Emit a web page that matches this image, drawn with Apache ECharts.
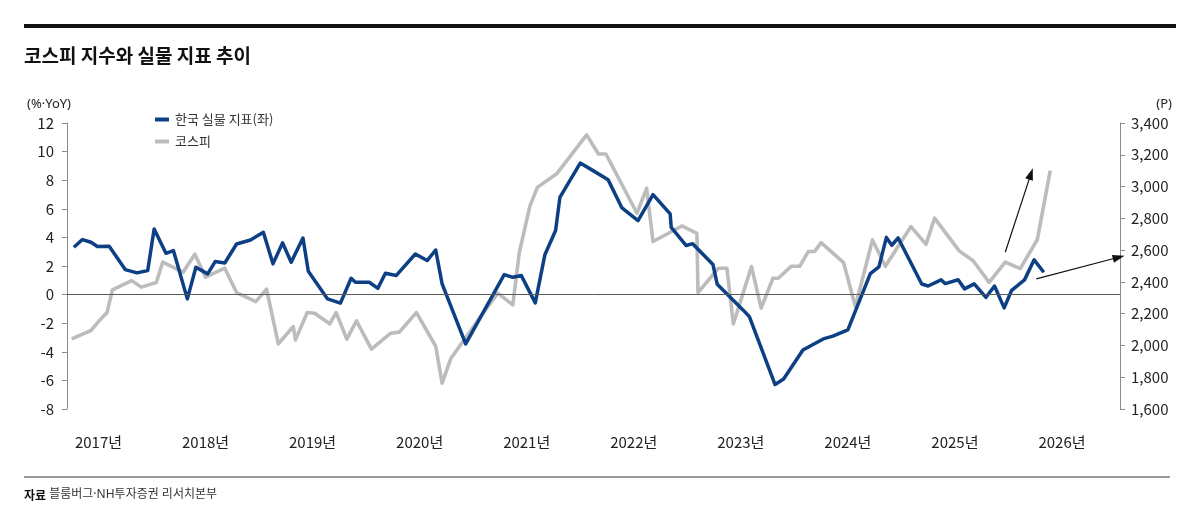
<!DOCTYPE html>
<html>
<head>
<meta charset="utf-8">
<style>
  html, body { margin: 0; padding: 0; background: #ffffff; }
  #chart { width: 1200px; height: 531px; }
</style>
<script src="https://cdn.jsdelivr.net/npm/echarts@6/dist/echarts.min.js"></script>
</head>
<body>
<div id="chart"></div>
<script>
// ---- data (x = decimal year) ----
const yearTicks = [2017, 2018, 2019, 2020, 2021, 2022, 2023, 2024, 2025, 2026];

const realX = [2016.77, 2016.85, 2016.93, 2016.99, 2017.10, 2017.25, 2017.36, 2017.46, 2017.52, 2017.63,
  2017.70, 2017.83, 2017.91, 2018.02, 2018.09, 2018.18, 2018.29, 2018.42, 2018.54, 2018.63,
  2018.72, 2018.80, 2018.91, 2018.96, 2019.14, 2019.26, 2019.36, 2019.40, 2019.53, 2019.61,
  2019.68, 2019.78, 2019.96, 2020.07, 2020.15, 2020.21, 2020.43, 2020.79, 2020.87, 2020.95,
  2021.08, 2021.17, 2021.27, 2021.31, 2021.50, 2021.62, 2021.76, 2021.89, 2022.04, 2022.18,
  2022.34, 2022.35, 2022.49, 2022.55, 2022.74, 2022.78, 2023.02, 2023.08, 2023.32, 2023.40,
  2023.58, 2023.77, 2023.86, 2024.00, 2024.21, 2024.29, 2024.36, 2024.41, 2024.47, 2024.69,
  2024.75, 2024.87, 2024.91, 2025.03, 2025.09, 2025.18, 2025.29, 2025.37, 2025.46, 2025.53,
  2025.65, 2025.74, 2025.83];
const realY = [3.31, 3.85, 3.66, 3.36, 3.38, 1.75, 1.52, 1.68, 4.59, 2.89,
  3.08, -0.30, 1.91, 1.45, 2.31, 2.21, 3.54, 3.82, 4.36, 2.15,
  3.62, 2.26, 3.96, 1.63, -0.30, -0.60, 1.14, 0.86, 0.86, 0.44,
  1.49, 1.33, 2.84, 2.38, 3.12, 0.75, -3.45, 1.40, 1.21, 1.33,
  -0.58, 2.79, 4.48, 6.80, 9.20, 8.67, 8.04, 6.06, 5.17, 6.99,
  5.64, 4.70, 3.43, 3.56, 2.10, 0.72, -1.07, -1.54, -6.29, -5.90,
  -3.87, -3.10, -2.90, -2.47, 1.47, 1.94, 4.00, 3.45, 3.96, 0.74,
  0.60, 1.03, 0.77, 1.04, 0.40, 0.75, -0.19, 0.60, -0.93, 0.30,
  1.03, 2.43, 1.56];

const kospiX = [2016.75, 2016.93, 2017.00, 2017.08, 2017.13, 2017.31, 2017.40, 2017.54, 2017.60, 2017.79,
  2017.90, 2018.00, 2018.18, 2018.29, 2018.47, 2018.57, 2018.68, 2018.82, 2018.84, 2018.95,
  2019.02, 2019.16, 2019.22, 2019.32, 2019.41, 2019.55, 2019.73, 2019.81, 2019.97, 2020.15,
  2020.21, 2020.29, 2020.57, 2020.73, 2020.87, 2020.93, 2021.03, 2021.10, 2021.28, 2021.56,
  2021.67, 2021.74, 2022.03, 2022.12, 2022.18, 2022.45, 2022.59, 2022.60, 2022.79, 2022.87,
  2022.93, 2023.10, 2023.19, 2023.30, 2023.35, 2023.47, 2023.55, 2023.63, 2023.69, 2023.75,
  2023.96, 2024.07, 2024.23, 2024.35, 2024.59, 2024.73, 2024.81, 2025.04, 2025.17, 2025.32,
  2025.47, 2025.61, 2025.77, 2025.89];
const kospiY = [2041, 2094, 2150, 2207, 2350, 2408, 2367, 2396, 2524, 2461,
  2574, 2430, 2486, 2333, 2276, 2354, 2010, 2119, 2035, 2207,
  2203, 2136, 2207, 2040, 2155, 1977, 2077, 2084, 2207, 1995,
  1763, 1916, 2182, 2329, 2255, 2581, 2878, 2995, 3080, 3325,
  3205, 3205, 2832, 2989, 2654, 2752, 2706, 2333, 2486, 2486,
  2136, 2496, 2235, 2423, 2423, 2498, 2498, 2591, 2591, 2647,
  2521, 2245, 2664, 2498, 2748, 2636, 2801, 2595, 2533, 2397,
  2524, 2483, 2667, 3100];

// annotation arrows, in (decimal year, left-axis %) data space
const arrowUp = [[2025.47, 2.96], [2025.71, 8.44]];
const arrowRight = [[2025.76, 1.10], [2026.53, 2.61]];

const seriesNames = ['한국 실물 지표(좌)', '코스피'];
const FONT = '"Noto Sans CJK KR", "Noto Sans", sans-serif';
const FONT_LATIN = '"Noto Sans", "Noto Sans CJK KR", sans-serif';

const chart = echarts.init(document.getElementById('chart'), null, { renderer: 'canvas' });

const arrowItem = (pts) => [
  { coord: pts[0], symbol: 'none' },
  { coord: pts[1], symbol: 'triangle', symbolSize: [8, 12] }
];

chart.setOption({
  animation: false,
  backgroundColor: '#ffffff',
  textStyle: { fontFamily: FONT },
  title: {
    text: '코스피 지수와 실물 지표 추이',
    left: 19, top: 41,
    textStyle: { fontFamily: FONT, fontSize: 19, fontWeight: 'bold', color: '#111' }
  },
  legend: {
    data: seriesNames,
    orient: 'vertical',
    left: 150, top: 108,
    itemWidth: 14, itemHeight: 4, itemGap: 9,
    icon: 'rect',
    textStyle: { fontFamily: FONT, fontSize: 13, color: '#333', padding: [0, 0, 0, 1] }
  },
  grid: { left: 67, right: 80, top: 123, bottom: 122, containLabel: false },
  xAxis: {
    type: 'value',
    min: 2016.706, max: 2026.542,
    axisLine: { show: false, onZero: false },
    axisTick: { show: false },
    splitLine: { show: false },
    axisLabel: {
      customValues: yearTicks,
      formatter: (v) => Math.round(v) + '년',
      fontFamily: FONT, fontSize: 15, color: '#222', margin: 26
    }
  },
  yAxis: [
    {
      type: 'value', min: -8, max: 12, interval: 2,
      splitLine: { show: false },
      axisLine: { show: true, lineStyle: { color: '#8c8c8c', width: 1 } },
      axisTick: { show: true, length: 5, lineStyle: { color: '#8c8c8c' } },
      axisLabel: { fontFamily: FONT, fontSize: 15, color: '#222', margin: 13 }
    },
    {
      type: 'value', min: 1600, max: 3400, interval: 200, position: 'right',
      splitLine: { show: false },
      axisLine: { show: true, lineStyle: { color: '#8c8c8c', width: 1 } },
      axisTick: { show: true, length: 5, lineStyle: { color: '#8c8c8c' } },
      axisLabel: {
        fontFamily: FONT, fontSize: 15, color: '#222', margin: 11,
        formatter: (v) => v.toLocaleString('en-US')
      }
    }
  ],
  series: [
    {
      name: 'annot', type: 'line', yAxisIndex: 0, data: [], z: 1,
      silent: true,
      markLine: {
        silent: true, animation: false, symbol: 'none',
        label: { show: false },
        emphasis: { disabled: true },
        data: [
          [{ coord: [2016.706, 0], symbol: 'none' },
           { coord: [2026.542, 0], symbol: 'none' }]
        ],
        lineStyle: { color: '#5a5a5a', width: 1, type: 'solid' }
      }
    },
    {
      name: seriesNames[1], type: 'line', yAxisIndex: 1, z: 2,
      data: kospiX.map((x, i) => [x, kospiY[i]]),
      symbol: 'none', showSymbol: false,
      lineStyle: { color: '#bcbcbc', width: 3.6, join: 'round' },
      itemStyle: { color: '#bcbcbc' }
    },
    {
      name: seriesNames[0], type: 'line', yAxisIndex: 0, z: 3,
      data: realX.map((x, i) => [x, realY[i]]),
      symbol: 'none', showSymbol: false,
      lineStyle: { color: '#0d3f85', width: 3.5, join: 'round' },
      itemStyle: { color: '#0d3f85' },
      markLine: {
        silent: true, animation: false, symbol: 'none',
        label: { show: false },
        emphasis: { disabled: true },
        lineStyle: { color: '#111', width: 1.2, type: 'solid' },
        data: [arrowItem(arrowUp), arrowItem(arrowRight)]
      }
    }
  ],
  graphic: [
    { type: 'rect', shape: { x: 24, y: 24, width: 1152, height: 4 }, style: { fill: '#111' }, silent: true },
    { type: 'text', x: 27, y: 104, style: { text: '(%·YoY)', font: '13px ' + FONT_LATIN, fill: '#222', textVerticalAlign: 'middle' }, silent: true },
    { type: 'text', x: 1172, y: 104, style: { text: '(P)', font: '13px ' + FONT_LATIN, fill: '#222', textAlign: 'right', textVerticalAlign: 'middle' }, silent: true },
    { type: 'rect', shape: { x: 24, y: 476, width: 1146, height: 2 }, style: { fill: '#9a9a9a' }, silent: true },
    { type: 'text', x: 24, y: 495, style: {
        text: '{b|자료} 블룸버그·NH투자증권 리서치본부',
        font: '12px ' + FONT_LATIN, fill: '#333', textVerticalAlign: 'middle',
        rich: { b: { fontWeight: 'bold', fontSize: 12, fontFamily: FONT, fill: '#111' } }
      }, silent: true }
  ]
});
</script>
</body>
</html>
